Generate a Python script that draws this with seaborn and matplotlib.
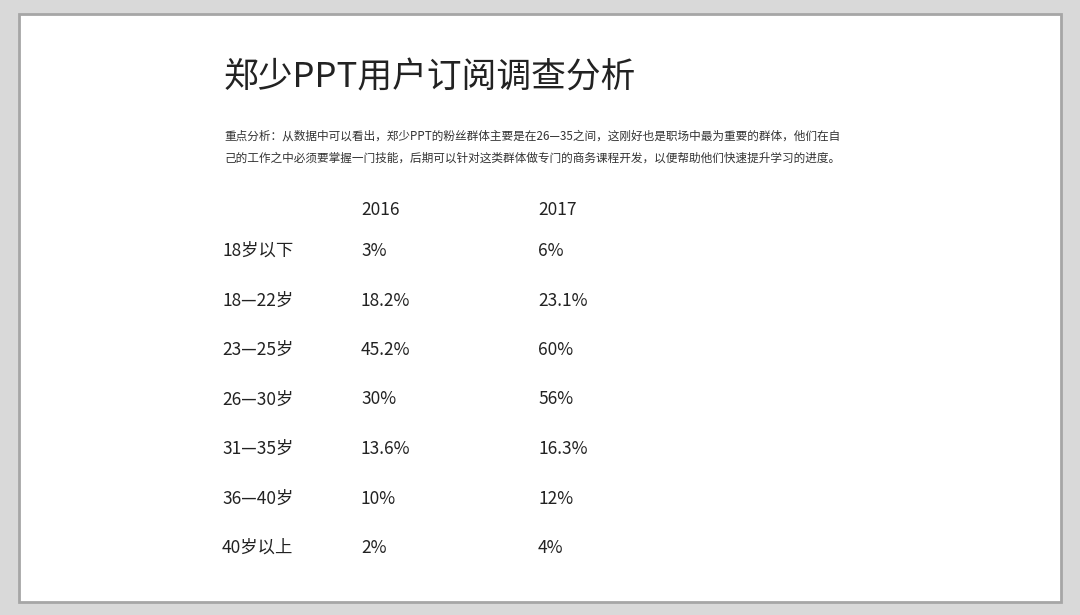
import matplotlib.pyplot as plt
import seaborn as sns
from matplotlib.patches import Rectangle

# 数据
age_groups = ["18岁以下", "18—22岁", "23—25岁", "26—30岁", "31—35岁", "36—40岁", "40岁以上"]
years = ["2016", "2017"]
share_2016 = ["3%", "18.2%", "45.2%", "30%", "13.6%", "10%", "2%"]
share_2017 = ["6%", "23.1%", "60%", "56%", "16.3%", "12%", "4%"]

title = "郑少PPT用户订阅调查分析"
note_1 = "重点分析：从数据中可以看出，郑少PPT的粉丝群体主要是在26—35之间，这刚好也是职场中最为重要的群体，他们在自"
note_2 = "己的工作之中必须要掌握一门技能，后期可以针对这类群体做专门的商务课程开发，以便帮助他们快速提升学习的进度。"

sns.set_theme(style="white")
plt.rcParams['font.family'] = ['Noto Sans CJK SC', 'DejaVu Sans']

fig = plt.figure(figsize=(10.8, 6.15), dpi=100, facecolor="#d9d9d9")
ax = fig.add_axes([0, 0, 1, 1])
ax.set_xlim(0, 1080)
ax.set_ylim(615, 0)
ax.axis("off")

# 幻灯片背景
ax.add_patch(Rectangle((19, 14), 1042, 588, facecolor="white", edgecolor="#a6a6a6", lw=2))

ax.text(224, 78, title, fontsize=25, color="#222222", va="center", ha="left")
ax.text(224, 136, note_1, fontsize=8.4, color="#333333", va="center", ha="left")
ax.text(224, 158, note_2, fontsize=8.4, color="#333333", va="center", ha="left")

col_x = [222, 361, 538]
row0, row_step = 251, 49.5
kw = dict(fontsize=12.5, color="#222222", va="center", ha="left")

for j, yr in enumerate(years):
    ax.text(col_x[j + 1], 210, yr, **kw)
for i, (grp, a, b) in enumerate(zip(age_groups, share_2016, share_2017)):
    y = row0 + i * row_step
    ax.text(col_x[0], y, grp, **kw)
    ax.text(col_x[1], y, a, **kw)
    ax.text(col_x[2], y, b, **kw)

fig.savefig("out.png", dpi=100, facecolor=fig.get_facecolor())
